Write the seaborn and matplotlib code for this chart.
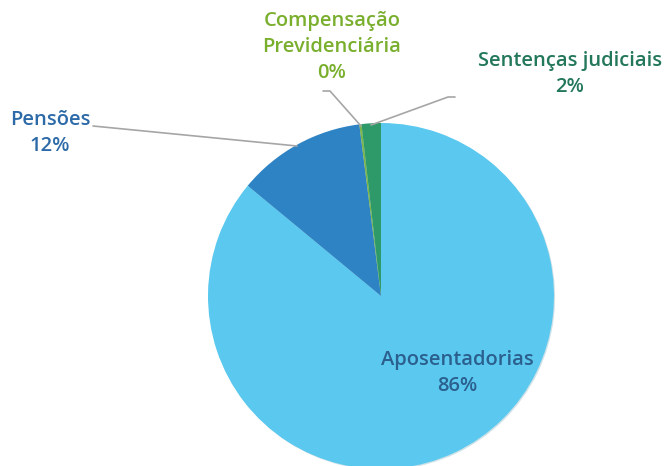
import matplotlib
matplotlib.use('Agg')
import matplotlib.pyplot as plt
import seaborn as sns

categories = ['Aposentadorias', 'Pensões', 'Compensação\nPrevidenciária', 'Sentenças judiciais']
shares = [86.0, 12.0, 0.2, 1.8]
pct_labels = ['86%', '12%', '0%', '2%']
slice_colors = ['#5BC9EF', '#2E83C4', '#7AB648', '#2E9A6A']
text_colors = ['#2B5F8E', '#2D6AA8', '#7AAF2E', '#23775A']

sns.set_theme(style='white')
plt.rcParams['font.family'] = ['Open Sans', 'DejaVu Sans']

W, H = 667, 466
fig = plt.figure(figsize=(W / 100, H / 100), dpi=100)
ax = fig.add_axes([0, 0, 1, 1])

center = (381, H - 296)
radius = 173
wedges, _ = ax.pie(shares, colors=slice_colors, startangle=90, counterclock=False,
                   center=center, radius=radius,
                   wedgeprops={'linewidth': 0},
                   shadow={'ox': 0.8, 'oy': -0.8, 'shade': 0.3, 'alpha': 0.25})
ax.set_xlim(0, W)
ax.set_ylim(0, H)
ax.set_aspect('equal')
ax.axis('off')

# label positions (pixel coords from top-left) and leader lines
text_pos = [(457, 373), (50, 133), (332, 47), (570, 74)]
leaders = [None,
           [(93, 126), (297, 146)],
           [(323, 91), (330, 91), (361, 126)],
           [(455, 97), (448, 97), (371, 125)]]

for i, cat in enumerate(categories):
    x, y = text_pos[i]
    ax.text(x, H - y, f'{cat}\n{pct_labels[i]}', ha='center', va='center',
            fontsize=14.5, fontweight='semibold', color=text_colors[i],
            linespacing=1.38)
    if leaders[i]:
        xs = [p[0] for p in leaders[i]]
        ys = [H - p[1] for p in leaders[i]]
        ax.plot(xs, ys, color='#A6A6A6', lw=1.2, zorder=5)

fig.savefig('out.png', dpi=100)
